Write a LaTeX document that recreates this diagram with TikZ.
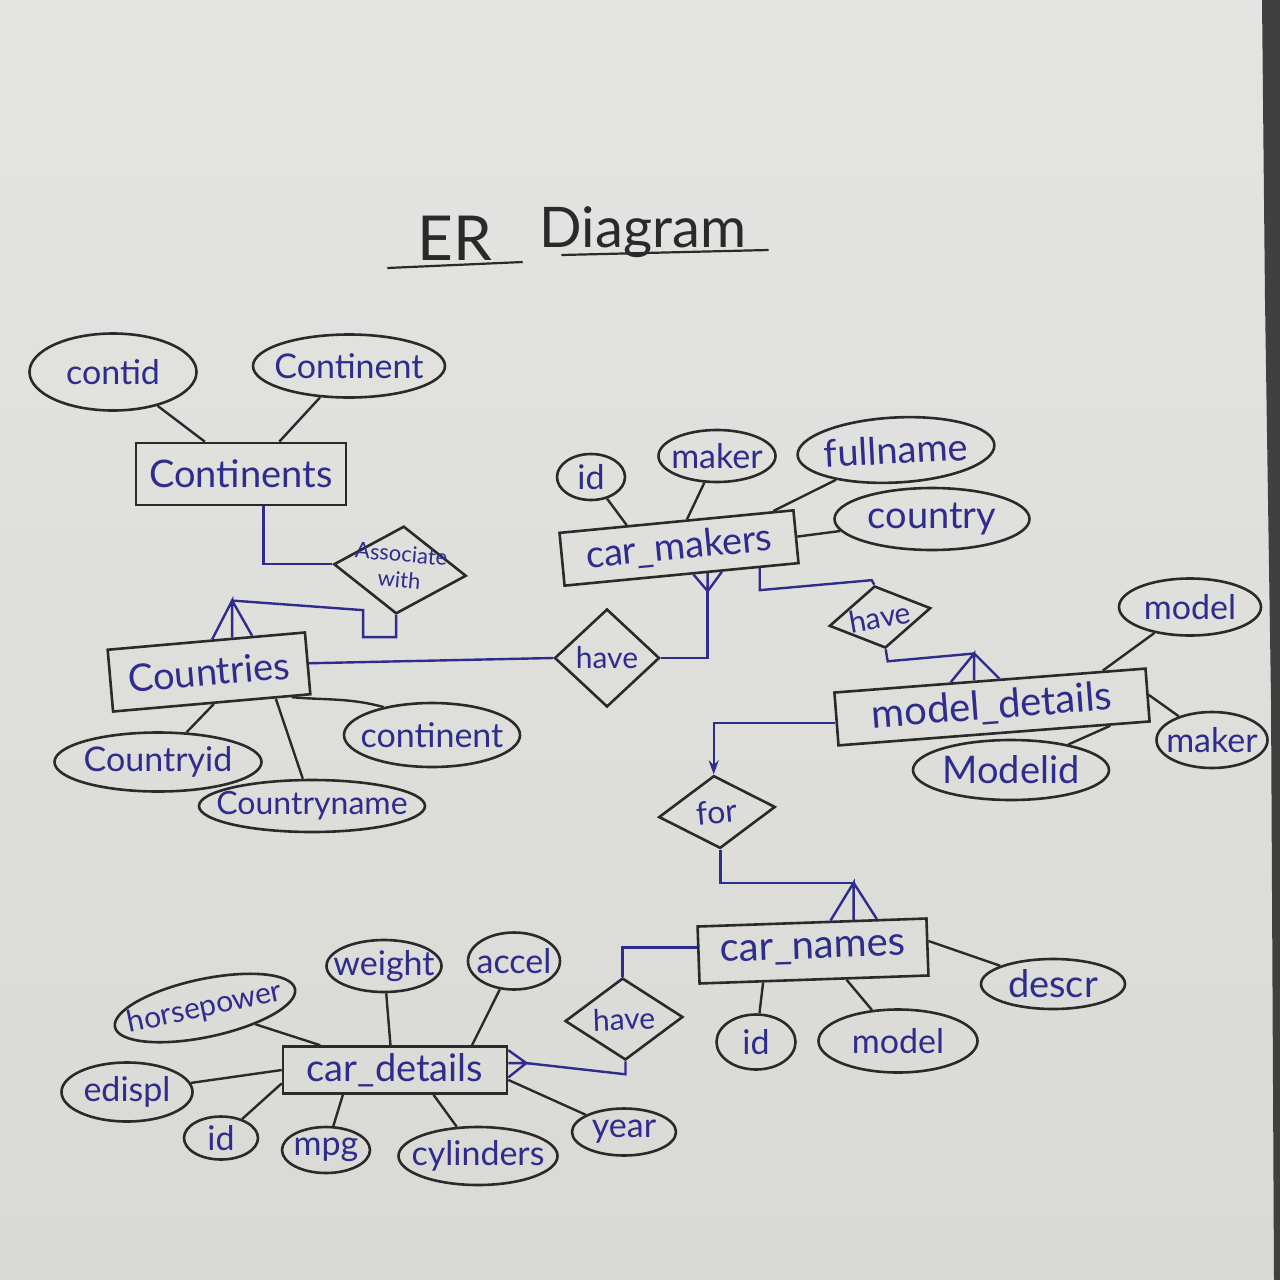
\documentclass[tikz,border=0pt]{standalone}
\usepackage{fontspec}
\setmainfont{Lato}
\usetikzlibrary{shapes.geometric,calc,arrows.meta}
\definecolor{ink}{HTML}{2A2A2A}
\definecolor{pen}{HTML}{2E2C8C}
\definecolor{paperT}{HTML}{E4E4E2}
\definecolor{paperB}{HTML}{D9D9D5}
\newcommand{\zw}[1]{\makebox[0pt]{#1}}
\begin{document}
\begin{tikzpicture}[x=0.5pt,y=-0.5pt,
  wh/.style 2 args={minimum width=#1*0.5pt, minimum height=#2*0.5pt},
  attr/.style={ellipse, draw=ink, line width=1.3pt, inner sep=0pt, text=pen, font=\fontsize{17}{20}\selectfont},
  ent/.style={rectangle, draw=ink, line width=1.3pt, inner sep=0pt, text=pen, font=\fontsize{19}{22}\selectfont},
  rel/.style={diamond, draw=ink, line width=1.3pt, inner sep=0pt, text=pen, font=\fontsize{15}{18}\selectfont},
  titletext/.style={text=ink, inner sep=0pt, anchor=base},
  link/.style={draw=ink, line width=1.2pt},
  rlink/.style={draw=pen, line width=1.2pt},
  tline/.style={draw=ink, line width=1.1pt},
]
% paper
\useasboundingbox (0,0) rectangle (1280,1280);
\shade[top color=paperT, bottom color=paperB] (0,0) rectangle (1280,1280);
\fill[black!75] (1262,0) -- (1280,0) -- (1280,1280) -- (1274,1280) -- (1271,700) -- (1265,300) -- cycle;

% title
\node[titletext, font=\fontsize{31}{34}\selectfont] (tER) at (455,260) {ER};
\node[titletext, font=\fontsize{28}{32}\selectfont] (tDia) at (643,247) {Diagram};
\draw[tline] ($(tER.base west)+(-30,8)$) -- ($(tER.base east)+(30,2)$);
\draw[tline] ($(tDia.base west)+(22,8)$) -- ($(tDia.base east)+(22,3)$);

% entities
\node[ent, wh={210}{62}] (cont) at (241,474) {\zw{Continents}};
\node[ent, wh={235}{53}, rotate=5.5] (makers) at (679,548) {\zw{car\_makers}};
\node[ent, wh={198}{62}, rotate=5] (ctry) at (209,672) {\zw{Countries}};
\node[ent, wh={312}{53}, rotate=4.4, font=\fontsize{20}{23}\selectfont] (mdet) at (992,707) {\zw{model\_details}};
\node[ent, wh={229}{57}, rotate=2, font=\fontsize{20}{23}\selectfont] (cname) at (813,951) {\zw{car\_names}};
\node[ent, wh={224}{47}] (cdet) at (395,1070) {\zw{car\_details}};

% relationships
\node[rel, wh={133}{88}, rotate=-5, font=\fontsize{11}{12}\selectfont] (assoc) at (400,570)
  {\zw{\begin{tabular}{@{}c@{}}Associate\\[1pt]with\end{tabular}}};
\node[rel, wh={105}{98}] (have1) at (607,658) {\zw{have}};
\node[rel, wh={103}{63}, rotate=10] (have2) at (880,617) {\zw{have}};
\node[rel, wh={117}{73}, rotate=5, font=\fontsize{16}{18}\selectfont] (rfor) at (717,812) {\zw{for}};
\node[rel, wh={118}{82}, rotate=2] (have3) at (624,1019) {\zw{have}};

% attributes
\node[attr, wh={167}{77}] (acontid) at (113,372) {\zw{contid}};
\node[attr, wh={192}{63}] (acontinent) at (349,366) {\zw{Continent}};
\node[attr, wh={68}{46}] (amid) at (591,477) {\zw{id}};
\node[attr, wh={117}{52}] (ammaker) at (717,456) {\zw{maker}};
\node[attr, wh={197}{65}, rotate=3, font=\fontsize{19}{22}\selectfont] (afull) at (896,450) {\zw{fullname}};
\node[attr, wh={195}{62}, font=\fontsize{19}{22}\selectfont] (acountry) at (932,519) {\zw{country}};
\node[attr, wh={207}{59}] (acid) at (158,762) {\zw{Countryid}};
\node[attr, wh={176}{64}] (accont) at (432,735) {\zw{continent}};
\node[attr, wh={226}{52}, font=\fontsize{16}{19}\selectfont] (acname) at (312,806) {\zw{Countryname}};
\node[attr, wh={142}{57}] (amodel) at (1190,607) {\zw{model}};
\node[attr, wh={111}{56}] (admaker) at (1212,740) {\zw{maker}};
\node[attr, wh={196}{60}, font=\fontsize{19}{22}\selectfont] (amodelid) at (1011,770) {\zw{Modelid}};
\node[attr, wh={79}{55}] (anid) at (756,1042) {\zw{id}};
\node[attr, wh={159}{63}] (anmodel) at (898,1041) {\zw{model}};
\node[attr, wh={144}{50}, font=\fontsize{19}{22}\selectfont] (adescr) at (1053,984) {\zw{descr}};
\node[attr, wh={184}{58}, rotate=12, font=\fontsize{15}{18}\selectfont] (ahp) at (205,1008) {\zw{horsepower}};
\node[attr, wh={115}{52}] (aweight) at (384,966) {\zw{weight}};
\node[attr, wh={92}{57}] (aaccel) at (514,961) {\zw{accel}};
\node[attr, wh={131}{59}] (aedispl) at (127,1092) {\zw{edispl}};
\node[attr, wh={74}{43}] (adid) at (221,1138) {\zw{id}};
\node[attr, wh={88}{46}] (ampg) at (326,1150) {\zw{mpg}};
\node[attr, wh={159}{58}] (acyl) at (478,1156) {\zw{cylinders}};
\node[attr, wh={104}{47}] (ayear) at (624,1132) {\zw{year}};

% attribute lines
\draw[link] (acontid) -- ($(cont.north west)!0.33!(cont.north east)$);
\draw[link] (acontinent) -- ($(cont.north west)!0.68!(cont.north east)$);
\draw[link] (amid) -- ($(makers.north west)!0.29!(makers.north east)$);
\draw[link] (ammaker) -- ($(makers.north west)!0.545!(makers.north east)$);
\draw[link] (afull) -- ($(makers.north west)!0.91!(makers.north east)$);
\draw[link] (acountry) -- (makers.east);
\draw[link] (acid) -- ($(ctry.south west)!0.51!(ctry.south east)$);
\draw[link] (acname) -- ($(ctry.south west)!0.82!(ctry.south east)$);
\draw[link] ($(ctry.south west)!0.9!(ctry.south east)$) to[out=-5,in=165] (accont.150);
\draw[link] (amodel) -- ($(mdet.north west)!0.86!(mdet.north east)$);
\draw[link] (admaker) -- (mdet.east);
\draw[link] (amodelid) -- ($(mdet.south west)!0.87!(mdet.south east)$);
\draw[link] (anid) -- ($(cname.south west)!0.28!(cname.south east)$);
\draw[link] (anmodel) -- ($(cname.south west)!0.64!(cname.south east)$);
\draw[link] (adescr) -- ($(cname.north east)!0.4!(cname.south east)$);
\draw[link] (ahp) -- ($(cdet.north west)!0.17!(cdet.north east)$);
\draw[link] (aweight) -- ($(cdet.north west)!0.48!(cdet.north east)$);
\draw[link] (aaccel) -- ($(cdet.north west)!0.84!(cdet.north east)$);
\draw[link] (aedispl) -- (cdet.west);
\draw[link] (adid) -- ($(cdet.north west)!0.77!(cdet.south west)$);
\draw[link] (ampg) -- ($(cdet.south west)!0.27!(cdet.south east)$);
\draw[link] (acyl) -- ($(cdet.south west)!0.67!(cdet.south east)$);
\draw[link] (ayear) -- ($(cdet.north east)!0.7!(cdet.south east)$);

% crow's feet
\coordinate (ctryb) at ($(ctry.north west)!0.63!(ctry.north east)$);
\coordinate (cfctry) at ($(ctryb)+(0,-37)$);
\draw[rlink] ($(ctry.north west)!0.53!(ctry.north east)$) -- (cfctry) -- (ctryb)
  (cfctry) -- ($(ctry.north west)!0.73!(ctry.north east)$);

\coordinate (mkb) at ($(makers.south west)!0.61!(makers.south east)$);
\coordinate (cfmk) at ($(mkb)+(0,18)$);
\draw[rlink] ($(makers.south west)!0.55!(makers.south east)$) -- (cfmk) -- (mkb)
  (cfmk) -- ($(makers.south west)!0.67!(makers.south east)$);

\coordinate (mdb) at ($(mdet.north west)!0.45!(mdet.north east)$);
\coordinate (cfmd) at ($(mdb)+(0,-27)$);
\draw[rlink] ($(mdet.north west)!0.375!(mdet.north east)$) -- (cfmd) -- (mdb)
  (cfmd) -- ($(mdet.north west)!0.53!(mdet.north east)$);

\coordinate (cnb) at ($(cname.north west)!0.68!(cname.north east)$);
\coordinate (cfcn) at ($(cnb)+(0,-37)$);
\draw[rlink] ($(cname.north west)!0.58!(cname.north east)$) -- (cfcn) -- (cnb)
  (cfcn) -- ($(cname.north west)!0.78!(cname.north east)$);

\coordinate (cdb) at ($(cdet.north east)!0.36!(cdet.south east)$);
\coordinate (cfcd) at ($(cdb)+(18,0)$);
\draw[rlink] ($(cdet.north east)!0.1!(cdet.south east)$) -- (cfcd) -- (cdb)
  (cfcd) -- ($(cdet.north east)!0.65!(cdet.south east)$);

% relationship connectors
\draw[rlink] ($(cont.south west)!0.605!(cont.south east)$) |- (assoc.west);
\draw[rlink] (assoc.south) -- ++(0,22) -| ++(-33,-27) -- (cfctry);
\draw[rlink] (ctry.east) -- (have1.west);
\draw[rlink] (have1.east) -| (cfmk);
\draw[rlink] ($(makers.south west)!0.83!(makers.south east)$) -- ++(0,22) -- ++(112,-10) -- (have2.north);
\draw[rlink] (have2.south) -- ++(2,12) -- (cfmd);
\draw[rlink,-{Stealth[length=7pt,width=5pt]}] ($(mdet.north west)!0.57!(mdet.south west)$) -| (rfor.north);
\draw[rlink] (rfor.south) |- (cfcn);
\draw[rlink] ($(cname.north west)!0.37!(cname.south west)$) -| (have3.north);
\draw[rlink] (have3.south) -- ++(0,13) -- (cfcd);
\end{tikzpicture}
\end{document}
